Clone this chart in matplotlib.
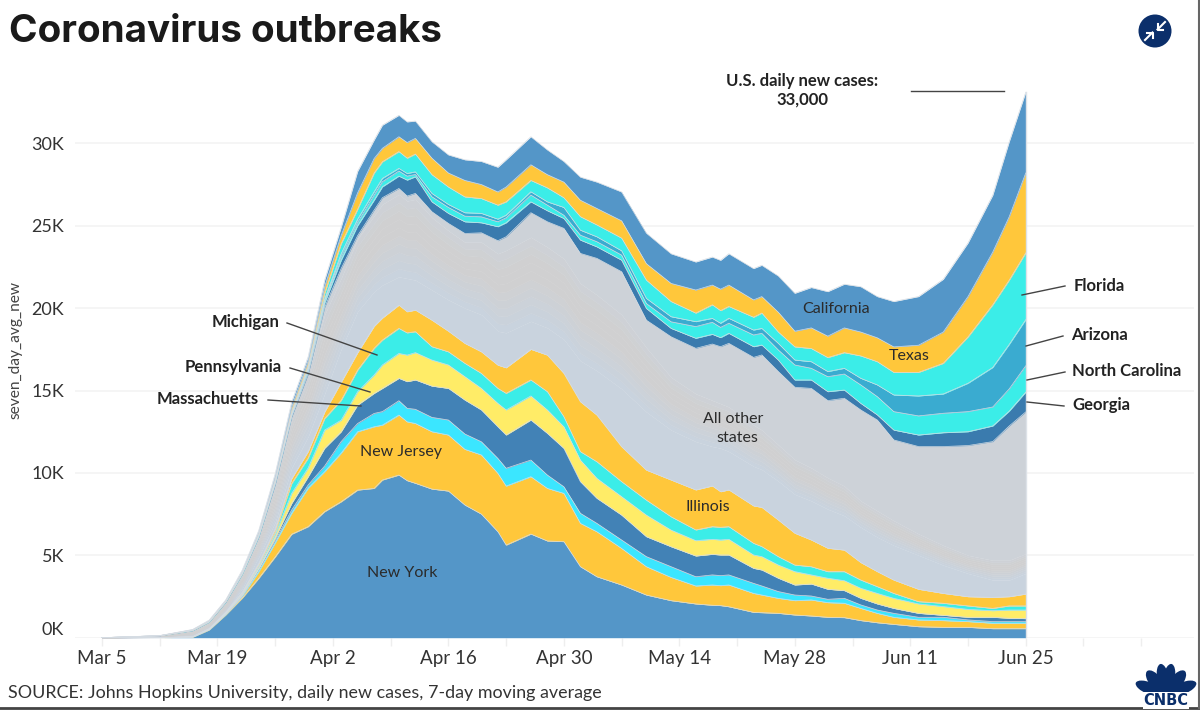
import numpy as np
import matplotlib
matplotlib.use("Agg")
import matplotlib.pyplot as plt
from matplotlib.colors import to_rgb
from matplotlib.patches import Circle, Ellipse

plt.rcParams["font.family"] = ["Lato", "DejaVu Sans"]

# days since Mar 5
days = [0, 7, 11, 13, 15, 17, 19, 21, 23, 25, 27, 29, 31, 33, 34, 36, 37, 38, 40, 42, 44, 46, 48, 49, 52, 54,
        56, 58, 60, 63, 66, 69, 72, 74, 75, 76, 79, 80, 82, 84, 86, 88, 90, 92, 94, 96, 99, 102, 105, 108, 110, 112]

# top edge of each stacked layer, in thousands of cases
new_york = [0, 0, .03, .47, 1.38, 2.4, 3.6, 4.9, 6.28, 6.74, 7.65, 8.25, 8.96, 9.06, 9.57, 9.87, 9.53, 9.37, 9.02, 8.9, 8.05, 7.5, 6.43, 5.62, 6.29, 5.87,
            5.83, 4.31, 3.7, 3.2, 2.59, 2.25, 2.05, 1.97, 1.95, 1.88, 1.54, 1.52, 1.48, 1.38, 1.32, 1.24, 1.22, 1.04, .91, .81, .67, .63, .63, .55, .55, .55]
new_jersey = [0, 0, .04, .49, 1.42, 2.5, 4.0, 5.75, 7.55, 9.07, 10.07, 11.2, 12.5, 12.8, 12.9, 13.51, 13.1, 13.0, 12.5, 12.3, 11.43, 11.09, 9.97, 9.2, 9.77, 9.06,
              8.76, 6.94, 6.43, 5.42, 4.31, 3.66, 3.14, 3.2, 3.16, 3.2, 2.69, 2.59, 2.39, 2.25, 2.29, 2.13, 2.09, 1.78, 1.48, 1.24, 1.08, 1.04, .98, .88, .88, .88]
connecticut = [0, 0, .05, .5, 1.45, 2.55, 4.15, 5.9, 7.75, 9.27, 10.42, 11.9, 13.0, 13.61, 13.72, 14.38, 13.92, 13.86, 13.37, 13.21, 12.36, 11.89, 10.88, 10.28, 10.78, 9.87,
               9.16, 7.55, 6.94, 5.93, 4.92, 4.31, 3.7, 3.81, 3.77, 3.81, 3.3, 3.14, 2.8, 2.59, 2.53, 2.33, 2.39, 1.99, 1.68, 1.48, 1.24, 1.24, 1.08, .98, .98, .98]
massachusetts = [0, 0, .05, .51, 1.47, 2.6, 4.2, 6.05, 8.15, 9.77, 11.5, 12.5, 14.12, 14.83, 15.13, 15.74, 15.54, 15.64, 15.27, 15.13, 14.42, 13.82, 12.8, 12.3, 13.21, 12.4,
                 11.49, 9.47, 8.46, 7.44, 6.13, 5.52, 4.96, 5.06, 5.02, 5.02, 4.21, 4.11, 3.61, 3.2, 3.26, 2.94, 2.86, 2.39, 2.05, 1.78, 1.48, 1.36, 1.24, 1.24, 1.18, 1.16]
pennsylvania = [0, 0, .06, .52, 1.5, 2.65, 4.3, 6.25, 8.75, 10.3, 12.6, 13.2, 14.93, 15.94, 16.55, 17.25, 17.15, 17.3, 16.85, 16.55, 15.84, 15.13, 14.22, 13.82, 14.67, 13.82,
                12.8, 10.78, 9.67, 8.56, 7.44, 6.53, 5.89, 5.97, 5.93, 5.97, 5.02, 4.92, 4.41, 4.01, 3.81, 3.61, 3.46, 3.0, 2.69, 2.39, 2.05, 1.89, 1.72, 1.64, 1.68, 1.68]
michigan = [0, 0, .06, .53, 1.52, 2.7, 4.4, 6.4, 9.35, 10.9, 13.3, 14.4, 16.24, 17.56, 18.06, 18.77, 18.5, 18.57, 17.66, 17.35, 16.65, 16.04, 15.13, 14.83, 15.64, 14.93,
            13.41, 11.29, 10.68, 9.47, 8.35, 7.34, 6.54, 6.74, 6.7, 6.74, 5.73, 5.53, 4.92, 4.41, 4.31, 4.01, 4.01, 3.5, 3.1, 2.69, 2.19, 2.09, 1.93, 1.78, 1.93, 1.93]
illinois = [0, 0, .07, .55, 1.55, 2.75, 4.5, 6.6, 9.65, 11.3, 13.7, 15.5, 17.3, 18.9, 19.4, 20.18, 19.78, 19.88, 19.27, 18.6, 17.86, 17.35, 16.54, 16.38, 17.5, 17.15,
            16.04, 14.32, 13.51, 11.59, 10.17, 9.57, 8.97, 9.21, 8.86, 8.97, 8.0, 7.91, 7.14, 6.34, 5.93, 5.43, 5.32, 4.56, 4.01, 3.5, 2.94, 2.69, 2.49, 2.45, 2.49, 2.65]
others_low = [0, .02, .08, .57, 1.6, 3.0, 4.9, 7.0, 10.3, 12.2, 14.8, 17.5, 19.8, 21, 21.4, 21.9, 21.8, 21.7, 21.1, 20.5, 20, 19.6, 18.6, 18.5, 19.2, 18.8,
              18.1, 16.8, 16.2, 15.1, 13.7, 12.6, 11.9, 11.6, 11.5, 11.3, 10.4, 10.2, 9.5, 8.7, 8.3, 7.8, 7.4, 6.7, 6.1, 5.6, 5, 4.4, 3.9, 3.5, 3.5, 3.9]
others_mid = [0, .12, .43, .95, 2.15, 3.85, 6.1, 9.3, 13.4, 16, 19.6, 21.8, 24.2, 25.6, 26.3, 26.9, 26.5, 26.6, 25.5, 24.7, 24, 24, 23.3, 23.5, 24.3, 23.7,
              23, 21.5, 20.8, 19.6, 17.6, 15.8, 14.8, 14.4, 14.2, 14, 12.9, 12.6, 11.7, 10.8, 10.3, 9.7, 9.2, 8.3, 7.7, 7.1, 6.3, 5.6, 5.0, 4.7, 4.7, 5.1]
others = [0, .12, .43, .95, 2.15, 3.85, 6.1, 9.3, 13.4, 16, 20.05, 22.4, 24.4, 25.95, 26.7, 27.26, 26.8, 26.96, 25.85, 25.14, 24.53, 24.57, 24.09, 24.33, 25.79, 25.24,
          24.84, 23.32, 23.02, 22.21, 19.27, 18.26, 17.56, 17.82, 17.66, 17.86, 17.01, 17.16, 16.15, 15.2, 15.13, 14.39, 14.53, 13.82, 13.21, 12.0, 11.6, 11.6, 11.66, 11.9, 12.85, 13.7]
georgia = [0, .12, .44, .96, 2.17, 3.87, 6.15, 9.4, 13.5, 16.2, 20.3, 22.9, 25, 26.55, 27.36, 28.01, 27.77, 27.97, 26.45, 25.75, 25.24, 25.18, 24.94, 25.18, 26.45, 25.91,
           25.44, 24.13, 23.72, 22.91, 19.98, 18.77, 18.17, 18.41, 18.21, 18.47, 17.66, 17.76, 16.85, 15.64, 15.64, 14.93, 15.03, 14.22, 13.52, 12.6, 12.3, 12.44, 12.5, 12.85, 13.75, 14.9]
north_carolina = [0, .12, .45, .97, 2.18, 3.9, 6.2, 9.45, 13.55, 16.3, 20.45, 23.1, 25.2, 26.86, 27.67, 28.32, 28.01, 28.11, 26.76, 26.11, 25.58, 25.54, 25.24, 25.48, 26.86, 26.25,
                  25.64, 24.43, 24.03, 23.22, 20.28, 19.17, 18.88, 19.14, 18.83, 19.08, 18.37, 18.47, 17.46, 16.55, 16.35, 15.84, 16.0, 15.34, 14.63, 13.72, 13.46, 13.62, 13.72, 14.0, 15.1, 16.5]
arizona = [0, .12, .46, .98, 2.19, 3.92, 6.22, 9.5, 13.6, 16.4, 20.55, 23.3, 25.4, 27.06, 27.87, 28.48, 28.17, 28.27, 26.96, 26.29, 25.79, 25.75, 25.4, 25.64, 27.06, 26.45,
           26.11, 24.73, 24.33, 23.48, 20.59, 19.48, 19.18, 19.38, 19.08, 19.38, 18.67, 18.77, 17.86, 16.85, 16.75, 16.15, 16.35, 15.74, 15.34, 14.73, 14.67, 14.79, 15.44, 16.4, 17.8, 19.3]
florida = [0, .12, .47, 1.0, 2.22, 3.95, 6.3, 9.6, 13.75, 16.55, 20.9, 23.9, 26.0, 28.2, 28.88, 29.5, 29.1, 29.35, 28.1, 27.35, 26.75, 26.65, 26.25, 26.45, 27.75, 27.3,
           26.7, 25.55, 25.05, 24.25, 21.7, 20.4, 19.7, 20.2, 19.85, 20.1, 19.45, 19.7, 18.55, 17.65, 17.55, 17.0, 17.3, 17.1, 16.75, 16.1, 16.1, 16.65, 18.25, 20.2, 21.7, 23.35]
texas = [0, .12, .49, 1.03, 2.26, 4.0, 6.4, 9.75, 14, 16.8, 21.3, 24.4, 27.0, 29.08, 29.7, 30.4, 30.05, 30.3, 29.1, 28.2, 27.75, 27.5, 27.05, 27.35, 28.7, 28.1,
         27.65, 26.55, 26.05, 25.3, 22.7, 21.5, 21.1, 21.4, 21.15, 21.4, 20.5, 20.7, 19.75, 18.6, 18.8, 18.3, 18.8, 18.55, 18.2, 17.65, 17.75, 18.55, 20.7, 23.4, 25.55, 28.2]
california = [0, .13, .5, 1.07, 2.29, 4.1, 6.5, 9.95, 14.3, 17.05, 21.7, 24.9, 28.3, 30.2, 31.1, 31.7, 31.3, 31.35, 30.1, 29.3, 29.0, 28.9, 28.55, 29.0, 30.4, 29.6,
              28.9, 27.95, 27.65, 27.05, 24.55, 23.3, 22.8, 23.1, 22.9, 23.3, 22.4, 22.6, 21.95, 20.9, 21.25, 21.0, 21.45, 21.3, 20.7, 20.4, 20.7, 21.75, 23.95, 26.85, 30.1, 33.1]

y_ticks = [0, 5, 10, 15, 20, 25, 30]
y_labels = ["0K", "5K", "10K", "15K", "20K", "25K", "30K"]
x_labels = ["Mar 5", "Mar 19", "Apr 2", "Apr 16", "Apr 30", "May 14", "May 28", "Jun 11", "Jun 25"]

blue = "#5496C8"
orange = "#FFC73B"
turquoise = "#3BEDE8"
blue_grey = "#C9D3DE"
grey = "#D0D0D1"
upper_grey = "#CDD2D8"
lower_layers = [
    (new_york, blue),
    (new_jersey, orange),
    (connecticut, "#3BE6FF"),
    (massachusetts, "#4282B6"),
    (pennsylvania, "#FFEC67"),
    (michigan, turquoise),
    (illinois, orange),
]
upper_layers = [
    (georgia, "#3A7BAE"),
    (north_carolina, turquoise),
    (arizona, "#3AABD0"),
    (florida, turquoise),
    (texas, orange),
    (california, blue),
]

fig = plt.figure(figsize=(12, 7.1), dpi=100)
ax = fig.add_axes([75 / 1200, 1 - 637.7 / 710, 1119 / 1200, 567.7 / 710])

lower = np.zeros(len(days))
for top, color in lower_layers:
    ax.fill_between(days, lower, top, color=color, linewidth=0, zorder=2)
    lower = np.array(top)

# all other states: soft strata between blue-grey and grey
ax.fill_between(days, illinois, others_low, color=blue_grey, linewidth=0, zorder=2)
n_strata = 10
lo, mid = np.array(others_low), np.array(others_mid)
for i in range(n_strata):
    f0, f1 = i / n_strata, (i + 1) / n_strata
    mix = min(1, f0 / 0.5)
    color = (1 - mix) * np.array(to_rgb(blue_grey)) + mix * np.array(to_rgb(grey))
    if f0 > 0.7:
        mix2 = (f0 - 0.7) / 0.3
        color = (1 - mix2) * np.array(to_rgb(grey)) + mix2 * np.array(to_rgb(upper_grey))
    ax.fill_between(days, lo + (mid - lo) * f0, lo + (mid - lo) * f1, color=color, linewidth=0.3, edgecolor=color, zorder=2)
ax.fill_between(days, others_mid, others, color=upper_grey, linewidth=0, zorder=2)

lower = np.array(others)
for top, color in upper_layers:
    ax.fill_between(days, lower, top, color=color, linewidth=0, zorder=2)
    lower = np.array(top)

for top, color in lower_layers + [(others, None)] + upper_layers:
    ax.plot(days, top, color="#D5DCE3", lw=0.5, zorder=3)
ax.plot([days[-1], days[-1]], [0, california[-1]], color="#DDE2E8", lw=1, zorder=3)

ax.set_xlim(-3.27, 132.4)
ax.set_ylim(0, 34.45)
ax.set_yticks(y_ticks)
ax.set_yticklabels(y_labels)
ax.set_xticks(np.arange(0, 133, 7), minor=True)
ax.set_xticks(np.arange(0, 113, 14))
ax.set_xticklabels(x_labels)
ax.grid(axis="y", color="#F3F3F3", lw=1.2, zorder=0)
ax.set_axisbelow(True)
for s in ax.spines.values():
    s.set_visible(False)
ax.tick_params(axis="x", which="both", color="#EEEEEE", length=6, width=1, labelsize=13.5, labelcolor="#333333", pad=3)
ax.tick_params(axis="y", length=0, labelsize=13, labelcolor="#333333", pad=8)
ax.get_yticklabels()[0].set_verticalalignment("bottom")

# everything else is placed in picture pixels
over = fig.add_axes([0, 0, 1, 1])
over.set_xlim(0, 1200)
over.set_ylim(710, 0)
over.axis("off")

over.text(9, 32, "Coronavirus outbreaks", fontsize=27.8, fontweight="bold", family=["Inter", "DejaVu Sans"],
          color="#1a1a1a", va="center", ha="left")
over.text(16, 350, "seven_day_avg_new", rotation=90, fontsize=11.2, color="#444444", va="center", ha="center")
over.text(8, 693, "SOURCE: Johns Hopkins University, daily new cases, 7-day moving average", fontsize=12.9,
          color="#333333", va="center", ha="left")

bold_labels = [
    (246, 322, "Michigan"),
    (233, 367, "Pennsylvania"),
    (208, 399, "Massachuetts"),
    (1099, 286, "Florida"),
    (1099, 335, "Arizona"),
    (1127, 371, "North Carolina"),
    (1101, 405, "Georgia"),
    (802, 81, "U.S. daily new cases:"),
    (802, 100, "33,000"),
]
for x, y, s in bold_labels:
    over.text(x, y, s, fontsize=12, fontweight="bold", color="#222222", ha="center", va="center")

area_labels = [
    (402, 573, "New York"),
    (401, 452, "New Jersey"),
    (708, 507, "Illinois"),
    (733, 419, "All other"),
    (737, 438, "states"),
    (836, 309, "California"),
    (909, 356, "Texas"),
]
for x, y, s in area_labels:
    over.text(x, y, s, fontsize=11.5, color="#2b2b2b", ha="center", va="center")

leader_lines = [
    ((287, 323), (377, 355)),
    ((290, 368), (370, 392)),
    ((268, 400), (361, 406)),
    ((1022, 295), (1065, 286)),
    ((1026, 346), (1063, 336)),
    ((1027, 380), (1065, 372)),
    ((1027, 402), (1064, 406)),
    ((911, 91), (1004, 91)),
]
for (x0, y0), (x1, y1) in leader_lines:
    over.plot([x0, x1], [y0, y1], color="#444444", lw=1)

# collapse button
navy = "#0B2F6B"
over.add_patch(Circle((1155, 31), 16.5, color=navy, lw=0))
over.plot([1165, 1157.5], [22, 29.5], color="white", lw=1.5)
over.plot([1157.5, 1157.5, 1163], [24, 29.5, 29.5], color="white", lw=1.5)
over.plot([1145, 1152.5], [40, 32.5], color="white", lw=1.5)
over.plot([1152.5, 1152.5, 1147], [38, 32.5, 32.5], color="white", lw=1.5)

# CNBC peacock
for angle, length, width in [(10, 30, 12), (-10, 30, 12), (38, 29, 13), (-38, 29, 13), (68, 31, 12), (-68, 31, 12)]:
    a = np.radians(angle)
    cx = 1166 + np.sin(a) * length * 0.55
    cy = 695 - np.cos(a) * length * 0.55
    over.add_patch(Ellipse((cx, cy), width, length, angle=angle, color=navy, lw=0))
over.text(1166, 700.5, "CNBC", fontsize=10.5, fontweight="bold", family="DejaVu Sans", color=navy, ha="center", va="center",
          bbox=dict(facecolor="white", edgecolor="none", pad=0.5))

# screenshot border
over.plot([0, 1200], [708, 708], color="#444444", lw=2)
over.plot([1199, 1199], [0, 708], color="#666666", lw=1.5)

fig.savefig("out.png", dpi=100)
